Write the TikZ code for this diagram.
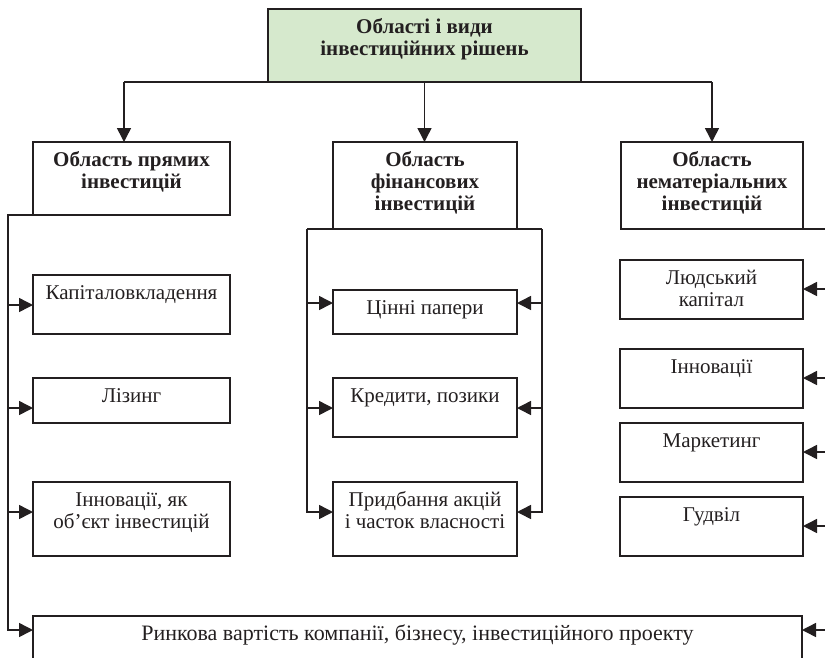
\documentclass[tikz,border=0pt]{standalone}
\usepackage{fontspec}
\setmainfont{Liberation Serif}
\usetikzlibrary{arrows.meta}
\definecolor{ink}{HTML}{231F20}
\definecolor{headfill}{HTML}{D6E9CD}
% box contents: height, width, text (top aligned, first baseline 24pt below the top)
\newcommand\celltext[3]{\parbox[c][#1][t]{#2}{\centering\rule{0pt}{24pt}#3\par}}
\begin{document}
\begin{tikzpicture}[x=1pt,y=-1pt,
  cell/.style={draw=ink, line width=1.5pt, rectangle, inner sep=0pt, outer sep=0pt,
               anchor=north west, font=\fontsize{21}{22}\selectfont, text=ink},
  head/.style={cell, font=\fontsize{21}{22}\selectfont\bfseries},
  link/.style={draw=ink, line width=1.5pt},
  arr/.style={link, -{Triangle[length=14pt,width=14pt]}}]
\useasboundingbox (0,0) rectangle (825,657);
\clip (0,0) rectangle (825,657);

% title and the three areas
\node[head, fill=headfill] (top) at (268,9) {\celltext{73pt}{313pt}{Області і види\\інвестиційних рішень}};
\node[head] (b1) at (33,142) {\celltext{73pt}{197pt}{Область прямих\\інвестицій}};
\node[head] (b2) at (333,142) {\celltext{87pt}{184pt}{Область\\фінансових\\інвестицій}};
\node[head] (b3) at (621,142) {\celltext{87pt}{182pt}{Область\\нематеріальних\\інвестицій}};

% direct investments
\node[cell] (c1a) at (33,275) {\celltext{59pt}{197pt}{Капіталовкладення}};
\node[cell] (c1b) at (33,378) {\celltext{45pt}{197pt}{Лізинг}};
\node[cell] (c1c) at (33,482) {\celltext{74pt}{197pt}{Інновації, як\\об’єкт інвестицій}};

% financial investments
\node[cell] (c2a) at (333,290) {\celltext{44pt}{184pt}{Цінні папери}};
\node[cell] (c2b) at (333,378) {\celltext{59pt}{184pt}{Кредити, позики}};
\node[cell] (c2c) at (333,482) {\celltext{74pt}{184pt}{Придбання акцій\\і часток власності}};

% intangible investments
\node[cell] (c3a) at (620,260) {\celltext{59pt}{183pt}{Людський\\капітал}};
\node[cell] (c3b) at (620,349) {\celltext{59pt}{183pt}{Інновації}};
\node[cell] (c3c) at (620,423) {\celltext{59pt}{183pt}{Маркетинг}};
\node[cell] (c3d) at (620,497) {\celltext{59pt}{183pt}{Гудвіл}};

% market value
\node[cell, font=\fontsize{22}{22}\selectfont] (bot) at (33,616) {\celltext{70pt}{769pt}{Ринкова вартість компанії, бізнесу, інвестиційного проекту}};

% top distribution bus
\coordinate (j1) at (124,82);
\coordinate (j3) at (712,82);
\draw[link] (j1) -- (j3);
\draw[arr] (j1) -- (j1 |- b1.north);
\draw[arr] (top.south) -- (top.south |- b2.north);
\draw[arr] (j3) -- (j3 |- b3.north);

% left bus
\coordinate (l0) at (8,215);
\coordinate (l1) at (8,305);
\coordinate (l2) at (8,408);
\coordinate (l3) at (8,512);
\coordinate (l4) at (8,630);
\draw[arr] (b1.south west) -- (l0) -- (l4) -- (l4 -| bot.west);
\draw[arr] (l1) -- (l1 -| c1a.west);
\draw[arr] (l2) -- (l2 -| c1b.west);
\draw[arr] (l3) -- (l3 -| c1c.west);

% middle buses
\coordinate (m0) at (307,229);
\coordinate (m1) at (307,303);
\coordinate (m2) at (307,408);
\coordinate (m3) at (307,512);
\coordinate (n0) at (542,229);
\coordinate (n1) at (542,303);
\coordinate (n2) at (542,408);
\coordinate (n3) at (542,512);
\draw[link] (m0) -- (n0);
\draw[arr] (m0) -- (m3) -- (m3 -| c2c.west);
\draw[arr] (n0) -- (n3) -- (n3 -| c2c.east);
\draw[arr] (m1) -- (m1 -| c2a.west);
\draw[arr] (m2) -- (m2 -| c2b.west);
\draw[arr] (n1) -- (n1 -| c2a.east);
\draw[arr] (n2) -- (n2 -| c2b.east);

% right bus
\coordinate (r0) at (828,229);
\coordinate (r1) at (828,289);
\coordinate (r2) at (828,378);
\coordinate (r3) at (828,452);
\coordinate (r4) at (828,526);
\coordinate (r5) at (828,630);
\draw[link] (b3.south east) -- (r0) -- (r5);
\draw[arr] (r1) -- (r1 -| c3a.east);
\draw[arr] (r2) -- (r2 -| c3b.east);
\draw[arr] (r3) -- (r3 -| c3c.east);
\draw[arr] (r4) -- (r4 -| c3d.east);
\draw[arr] (r5) -- (r5 -| bot.east);
\end{tikzpicture}
\end{document}
